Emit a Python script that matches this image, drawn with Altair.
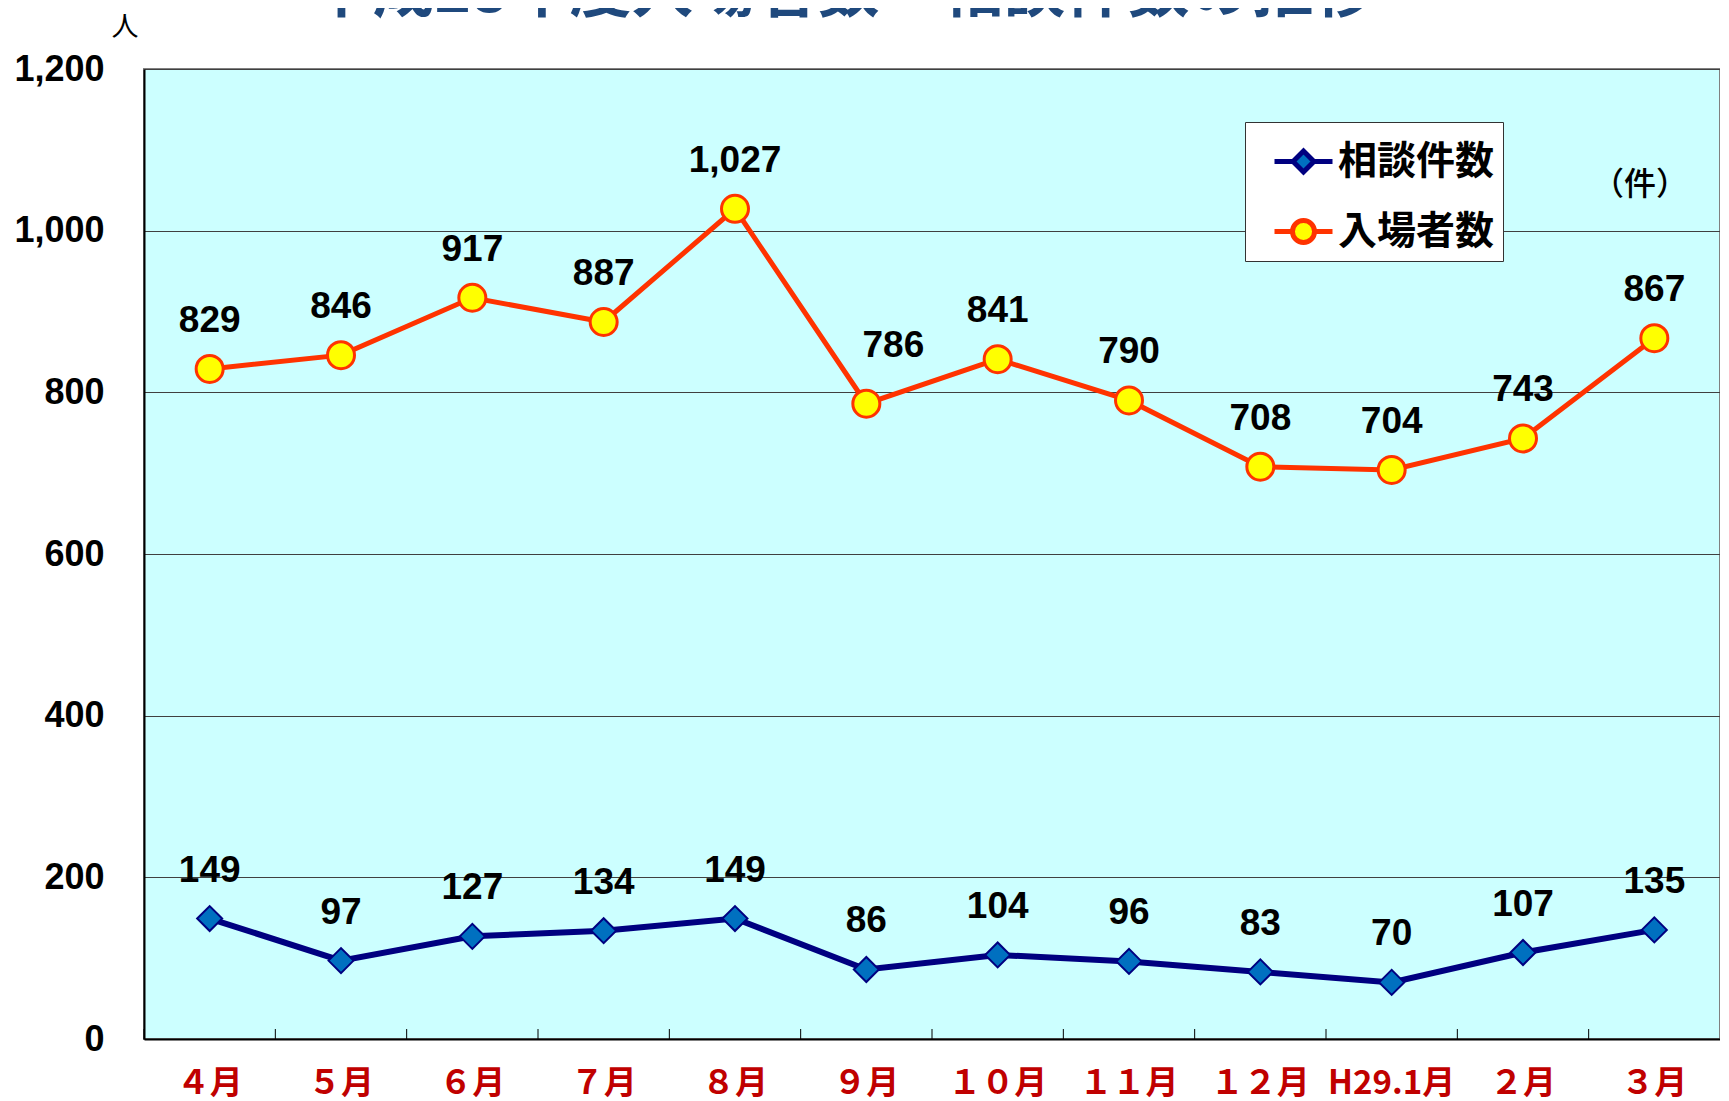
import altair as alt
import pandas as pd

months = ["４月", "５月", "６月", "７月", "８月", "９月", "１０月", "１１月", "１２月", "H29.1月", "２月", "３月"]
consult = [149, 97, 127, 134, 149, 86, 104, 96, 83, 70, 107, 135]
visitors = [829, 846, 917, 887, 1027, 786, 841, 790, 708, 704, 743, 867]
series_names = ["相談件数", "入場者数"]
y_ticks = [0, 200, 400, 600, 800, 1000, 1200]
title_text = "平成28年度入場者数・相談件数の推移"
y_unit = "人"
count_unit = "（件）"

rows = []
for m, c, v in zip(months, consult, visitors):
    rows.append({"month": m, "series": series_names[0], "value": c})
    rows.append({"month": m, "series": series_names[1], "value": v})
df = pd.DataFrame(rows)

W, H = 1576, 970
NUM_FONT = "Liberation Sans"
JP_FONT = "Noto Sans CJK JP"

x_scale = alt.Scale(type="band", paddingInner=0, paddingOuter=0)
x_axis = alt.Axis(title=None, labelAngle=0, labelFont=JP_FONT, labelFontSize=33,
                  labelFontWeight="bold", labelColor="#C00000", labelPadding=28,
                  ticks=False, domain=True, domainColor="#000000", domainWidth=2,
                  grid=False)
x_enc = alt.X("month:N", sort=months, bandPosition=0.5, scale=x_scale, axis=x_axis)

y_enc = alt.Y("value:Q", scale=alt.Scale(domain=[0, 1200], nice=False, zero=True),
              axis=alt.Axis(values=y_ticks, format=",d", title=None, ticks=False,
                            grid=True, gridColor="#404040", gridWidth=1, gridOpacity=1,
                            domainColor="#000000", domainWidth=2, labelFont=NUM_FONT,
                            labelFontSize=36, labelFontWeight="bold", labelPadding=40,
                            labelColor="#000000"))

base = alt.Chart(df)

blue_line = base.transform_filter(alt.datum.series == series_names[0]).mark_line(
    color="#000080", strokeWidth=6).encode(x=x_enc, y=y_enc)
blue_pts = base.transform_filter(alt.datum.series == series_names[0]).mark_point(
    shape="diamond", filled=True, fill="#0070C0", stroke="#000080", strokeWidth=2,
    size=625, opacity=1).encode(x=x_enc, y=y_enc)
orange_line = base.transform_filter(alt.datum.series == series_names[1]).mark_line(
    color="#FF3300", strokeWidth=5).encode(x=x_enc, y=y_enc)
orange_pts = base.transform_filter(alt.datum.series == series_names[1]).mark_point(
    shape="circle", filled=True, fill="#FFFF00", stroke="#FF3300", strokeWidth=3,
    size=729, opacity=1).encode(x=x_enc, y=y_enc)

moved = (alt.datum.month == "９月") & (alt.datum.series == series_names[1])
labels_main = base.transform_filter(~moved).mark_text(
    font=NUM_FONT, fontSize=37, fontWeight="bold", dy=-48, baseline="middle",
    align="center", color="#000000"
).encode(x=x_enc, y=y_enc, text=alt.Text("value:Q", format=",d"))
labels_moved = base.transform_filter(moved).mark_text(
    font=NUM_FONT, fontSize=37, fontWeight="bold", dx=27, dy=-58, baseline="middle",
    align="center", color="#000000"
).encode(x=x_enc, y=y_enc, text=alt.Text("value:Q", format=",d"))

ticks = alt.Chart(pd.DataFrame({"month": months})).mark_rule(color="#000000", strokeWidth=1).encode(
    x=alt.X("month:N", sort=months, bandPosition=0, scale=x_scale, axis=x_axis),
    y=alt.value(H), y2=alt.value(H - 10))

title_layer = alt.Chart(pd.DataFrame({"t": [title_text]})).mark_text(
    font=JP_FONT, fontSize=62, fontWeight="bold", color="#1F497D", align="center",
    baseline="alphabetic").encode(x=alt.value(699), y=alt.value(-57), text="t:N")
unit_layer = alt.Chart(pd.DataFrame({"t": [y_unit]})).mark_text(
    font=JP_FONT, fontSize=27, color="#000000", align="center", baseline="middle"
).encode(x=alt.value(-19), y=alt.value(-41), text="t:N")
count_layer = alt.Chart(pd.DataFrame({"t": [count_unit]})).mark_text(
    font=JP_FONT, fontSize=32, fontWeight=500, color="#000000", align="center", baseline="middle"
).encode(x=alt.value(1496), y=alt.value(116), text="t:N")

diamond_path = "M-1,0L-0.36,0M-0.36,0L0,-0.36L0.36,0L0,0.36ZM0.36,0L1,0"
circle_path = ("M-1,0L-0.38,0M0.38,0L1,0M-0.38,0A0.38,0.38,0,1,1,0.38,0"
               "A0.38,0.38,0,1,1,-0.38,0Z")

leg = alt.Legend(title=None, orient="none", legendX=1101, legendY=53, fillColor="#FFFFFF",
                 strokeColor="#333333", padding=8, symbolSize=3364, symbolStrokeWidth=5,
                 symbolOffset=19, labelOffset=3, rowPadding=18, labelFont=JP_FONT,
                 labelFontSize=39, labelFontWeight="bold", labelColor="#000000",
                 symbolOpacity=1, cornerRadius=0)

legend_layer = base.transform_filter("false").mark_point(filled=True, opacity=1).encode(
    x=x_enc, y=y_enc,
    shape=alt.Shape("series:N", scale=alt.Scale(domain=series_names, range=[diamond_path, circle_path]), legend=leg),
    fill=alt.Fill("series:N", scale=alt.Scale(domain=series_names, range=["#0070C0", "#FFFF00"]), legend=leg),
    stroke=alt.Stroke("series:N", scale=alt.Scale(domain=series_names, range=["#000080", "#FF3300"]), legend=leg),
)

chart = alt.layer(
    ticks, blue_line, orange_line, blue_pts, orange_pts, labels_main, labels_moved,
    title_layer, unit_layer, count_layer, legend_layer
).properties(
    width=W, height=H,
    autosize=alt.AutoSizeParams(type="none"),
    padding={"left": 136, "top": 61, "right": 0, "bottom": 68},
).configure_view(fill="#CCFFFF", stroke="#808080", strokeWidth=2)

chart.save("out.html", embed_options={"renderer": "svg", "actions": False})
